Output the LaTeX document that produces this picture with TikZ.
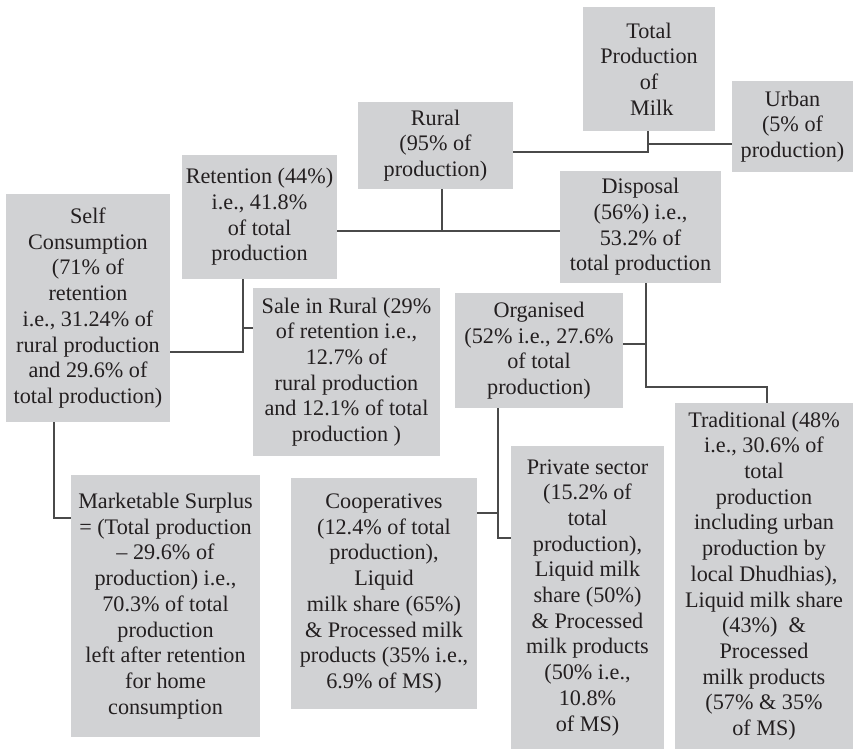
\documentclass[tikz,border=0pt]{standalone}
\usepackage{fontspec}
\setmainfont{Liberation Serif}
\definecolor{boxgray}{HTML}{D1D2D4}
\definecolor{textc}{HTML}{231F20}
\definecolor{linec}{HTML}{4A4A4A}
\tikzset{
  box/.style={fill=boxgray, text=textc, align=center, inner sep=0pt,
    font=\fontsize{11.1}{12.85}\selectfont},
  conn/.style={draw=linec, line width=0.75pt}
}
\begin{document}
\begin{tikzpicture}[x=0.5pt,y=-0.5pt]
\useasboundingbox (0,0) rectangle (854,751);
\node[box, minimum width=66pt, minimum height=62pt] (total) at (649,69) {Total\\Production\\of\\\ Milk};
\node[box, minimum width=60.5pt, minimum height=45.5pt] (urban) at (792.5,126.5) {Urban\\(5\% of\\production)};
\node[box, minimum width=77.5pt, minimum height=43.5pt] (rural) at (435.5,145.5) {Rural\\(95\% of\\production)};
\node[box, minimum width=77.5pt, minimum height=62pt] (retention) at (259.5,217) {Retention (44\%)\\i.e., 41.8\%\\of total\\production};
\node[box, minimum width=80.5pt, minimum height=56pt] (disposal) at (640.5,227) {Disposal\\(56\%) i.e.,\\53.2\% of\\total production};
\node[box, minimum width=82pt, minimum height=114pt] (self) at (88,308) {Self\\Consumption\\(71\% of\\retention\\i.e., 31.24\% of\\rural production\\and 29.6\% of\\total production)};
\node[box, minimum width=93.5pt, minimum height=84pt] (sale) at (346.5,372) {Sale in Rural (29\%\\of retention i.e.,\\12.7\% of\\rural production\\and 12.1\% of total\\production )};
\node[box, minimum width=84pt, minimum height=57.5pt] (organised) at (539,350.5) {Organised\\(52\% i.e., 27.6\%\\of total\\production)};
\node[box, minimum width=89pt, minimum height=173pt] (traditional) at (764,576) {Traditional (48\%\\i.e., 30.6\% of\\total\\production\\including urban\\production by\\local Dhudhias),\\Liquid milk share\\(43\%) \ \&\\Processed\\milk products\\(57\% \& 35\%\\of MS)};
\node[box, minimum width=94.5pt, minimum height=131pt] (marketable) at (165.5,606) {Marketable Surplus\\= (Total production\\– 29.6\% of\\production) i.e.,\\70.3\% of total\\production\\left after retention\\for home\\consumption};
\node[box, minimum width=93pt, minimum height=115.5pt] (coop) at (384,593.5) {Cooperatives\\(12.4\% of total\\production),\\Liquid\\milk share (65\%)\\\& Processed milk\\products (35\% i.e.,\\6.9\% of MS)};
\node[box, minimum width=76.5pt, minimum height=151.5pt] (private) at (587.5,597.5) {Private sector\\(15.2\% of\\total\\production),\\Liquid milk\\share (50\%)\\\& Processed\\milk products\\(50\% i.e.,\\10.8\%\\of MS)};
% junctions
\coordinate (j1) at (648,152);
\coordinate (j2) at (648,144);
\coordinate (j3) at (442,231);
\coordinate (j4) at (243,352);
\coordinate (j5) at (243,328);
\coordinate (j6) at (54,518);
\coordinate (j7) at (646,387);
\coordinate (j8) at (646,344);
\coordinate (j9) at (767,387);
\coordinate (j10) at (498,538);
\coordinate (j11) at (498,513);
% connectors
\draw[conn] (j1 |- total.south) -- (j1) -- (j1 -| rural.east);
\draw[conn] (j2) -- (j2 -| urban.west);
\draw[conn] (j3 |- rural.south) -- (j3);
\draw[conn] (j3 -| retention.east) -- (j3 -| disposal.west);
\draw[conn] (j4 |- retention.south) -- (j4) -- (j4 -| self.east);
\draw[conn] (j5) -- (j5 -| sale.west);
\draw[conn] (j6 |- self.south) -- (j6) -- (j6 -| marketable.west);
\draw[conn] (j7 |- disposal.south) -- (j7) -- (j9) -- (j9 |- traditional.north);
\draw[conn] (j8) -- (j8 -| organised.east);
\draw[conn] (j10 |- organised.south) -- (j10) -- (j10 -| private.west);
\draw[conn] (j11) -- (j11 -| coop.east);
\end{tikzpicture}
\end{document}
